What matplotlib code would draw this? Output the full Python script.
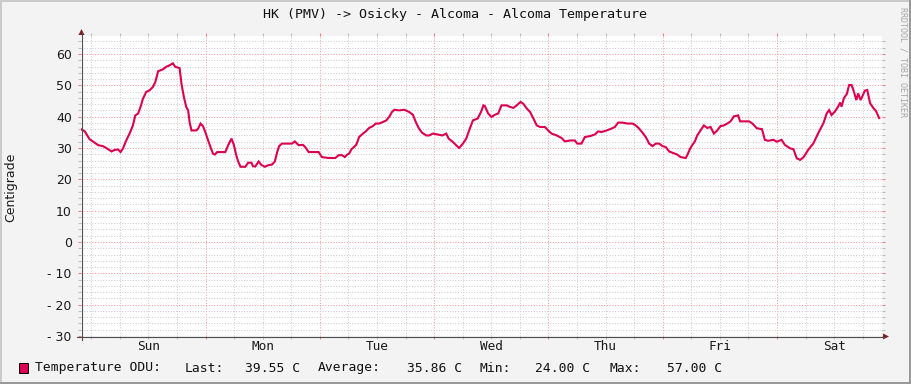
"""RRDtool-style weekly temperature graph."""

import matplotlib
matplotlib.use("Agg")
import matplotlib.pyplot as plt
import numpy as np
from matplotlib.lines import Line2D
from matplotlib.patches import Polygon, Rectangle

# hours since graph start (Sat ~21:50) and temperature in C
hours = [
    0.0, 0.8, 1.8, 2.5, 3.6, 4.6, 5.3, 6.4, 7.1, 7.8, 8.3, 8.8, 9.5, 10.2,
    10.9, 11.4, 12.0, 12.5, 13.0, 13.7, 14.4, 15.1, 15.6, 16.2, 17.2, 17.9,
    18.6, 19.3, 19.8, 20.7, 21.1, 21.6, 22.1, 22.5, 22.8, 23.2, 24.2, 24.6,
    25.1, 25.6, 26.1, 26.7, 27.2, 27.7, 28.1, 28.6, 29.3, 30.3, 30.9, 31.6,
    32.1, 32.6, 33.0, 33.5, 34.5, 35.1, 35.8, 36.1, 36.6, 37.3, 37.8, 38.6,
    39.3, 40.1, 40.7, 41.2, 41.6, 42.2, 43.3, 44.3, 44.9, 45.7, 46.6, 47.1,
    47.8, 49.2, 49.9, 50.6, 52.0, 53.4, 54.1, 54.8, 55.4, 55.9, 56.3, 56.8,
    57.1, 57.8, 58.4, 59.2, 59.8, 60.5, 61.3, 61.9, 62.6, 63.4, 64.1, 64.7,
    65.3, 65.8, 66.8, 67.9, 68.9, 69.7, 70.3, 70.9, 71.6, 72.5, 73.1, 73.9,
    74.9, 75.9, 76.7, 77.2, 78.1, 78.7, 79.4, 80.2, 80.9, 81.5, 82.3, 83.3,
    84.0, 84.5, 84.8, 85.5, 86.2, 86.9, 87.6, 88.3, 89.4, 90.1, 90.8, 91.5,
    92.3, 92.9, 93.6, 94.3, 95.0, 95.7, 96.4, 97.4, 98.1, 98.8, 99.9, 100.9,
    101.6, 102.7, 103.7, 104.2, 105.1, 105.8, 106.9, 107.9, 108.6, 109.3,
    110.4, 111.4, 112.1, 112.8, 113.7, 114.7, 115.8, 116.5, 117.2, 117.9,
    118.6, 119.3, 120.0, 120.7, 121.4, 122.1, 122.8, 123.5, 124.2, 125.2,
    125.9, 127.0, 127.3, 127.9, 128.4, 128.9, 129.4, 130.1, 130.8, 131.5,
    132.2, 132.9, 133.6, 134.3, 135.0, 135.7, 136.4, 137.1, 138.0, 138.4,
    139.2, 140.3, 141.0, 141.9, 143.0, 143.6, 144.3, 145.4, 146.1, 147.1,
    147.8, 148.9, 149.6, 150.3, 151.0, 151.7, 152.7, 153.8, 154.8, 155.9,
    156.6, 157.1, 157.6, 158.3, 159.0, 159.4, 159.7, 160.2, 160.8, 161.3,
    161.8, 162.2, 162.8, 163.2, 163.7, 164.2, 164.6, 165.1, 165.7, 166.4,
    166.9, 167.6,
]
temps = [
    36.0, 35.3, 32.8, 32.1, 30.9, 30.6, 30.0, 28.9, 29.4, 29.5, 28.7, 29.8,
    32.4, 34.6, 37.2, 40.4, 41.0, 43.1, 45.7, 47.9, 48.4, 49.5, 51.0, 54.5,
    55.1, 55.9, 56.4, 57.0, 55.9, 55.5, 50.5, 46.3, 43.1, 42.0, 38.3, 35.6,
    35.6, 36.2, 37.8, 37.0, 35.1, 32.4, 30.3, 28.2, 27.9, 28.7, 28.7, 28.7,
    30.9, 33.0, 31.0, 27.7, 25.7, 24.0, 24.0, 25.3, 25.3, 24.2, 24.1, 25.7,
    24.7, 24.0, 24.5, 24.7, 25.7, 28.7, 30.6, 31.4, 31.4, 31.4, 32.1, 30.9,
    31.0, 30.3, 28.7, 28.7, 28.7, 27.1, 26.8, 26.8, 27.7, 27.7, 27.1, 27.9,
    28.2, 29.6, 30.0, 31.0, 33.5, 34.6, 35.3, 36.4, 37.0, 37.8, 37.8, 38.3,
    38.8, 39.9, 41.5, 42.2, 42.0, 42.2, 41.5, 40.6, 38.3, 36.4, 34.9, 34.0,
    34.0, 34.6, 34.3, 34.0, 34.6, 33.0, 31.9, 31.0, 30.0, 31.4, 33.0, 35.6,
    38.8, 39.4, 41.5, 43.6, 43.4, 41.0, 39.9, 40.6, 41.0, 43.6, 43.6, 43.1,
    42.8, 43.6, 44.7, 44.1, 42.6, 41.5, 39.4, 37.2, 36.7, 36.7, 35.6, 34.6,
    34.0, 33.2, 32.1, 32.4, 32.4, 31.4, 31.4, 33.5, 33.8, 34.3, 35.3, 35.1,
    35.6, 36.2, 36.7, 38.1, 38.1, 37.8, 37.8, 37.2, 36.2, 34.9, 33.5, 31.4,
    30.6, 31.4, 31.4, 30.6, 30.3, 28.9, 28.5, 27.9, 27.1, 26.8, 27.7, 29.8,
    31.0, 32.1, 34.0, 35.6, 37.2, 36.4, 36.7, 34.6, 35.6, 37.0, 37.2, 37.8,
    38.5, 40.1, 40.4, 38.5, 38.5, 38.5, 37.8, 36.3, 36.0, 32.6, 32.3, 32.6,
    32.0, 32.6, 31.0, 29.9, 29.6, 26.7, 26.2, 27.0, 29.4, 31.5, 34.7, 37.9,
    41.1, 42.1, 40.5, 41.6, 43.2, 44.5, 43.2, 45.9, 47.2, 50.1, 50.1, 48.5,
    45.3, 47.4, 45.3, 46.9, 48.3, 48.5, 44.3, 42.7, 41.9, 39.55,
]
days = ["Sun", "Mon", "Tue", "Wed", "Thu", "Fri", "Sat"]
ytick_labels = ["- 30", "- 20", "- 10", "0", "10", "20", "30", "40", "50", "60"]
title = "HK (PMV) -> Osicky - Alcoma - Alcoma Temperature"
series_name = "Temperature ODU:"
stats = [("Last:", "39.55 C"), ("Average:", "35.86 C"),
         ("Min:", "24.00 C"), ("Max:", "57.00 C")]

W, H = 911, 384
LINE = "#dc0050"
MONO = "DejaVu Sans Mono"
first_midnight = 2.16  # hours after start


def fx(x):
    return x / W


def fy(y):
    return 1 - y / H


fig = plt.figure(figsize=(W / 100, H / 100), dpi=100)
fig.patch.set_facecolor("#f3f3f3")

ax = fig.add_axes([fx(81), fy(336), 801 / W, 300 / H])
ax.set_facecolor("white")
ax.set_xlim(0, 168.2)
ax.set_ylim(-30, 65.74)

# grid: day lines (major) at midnight, 6 h minor, 10 / 2 unit horizontals
six_hours = np.arange(first_midnight, 168, 6)
majors_x = six_hours[4::4]
minors_x = [h for h in six_hours if h not in majors_x]
ax.set_xticks(majors_x)
ax.set_xticks(minors_x, minor=True)
ax.set_yticks(np.arange(-30, 61, 10))
ax.set_yticks([v for v in range(-30, 66, 2) if v % 10], minor=True)
ax.set_yticklabels(ytick_labels)
ax.grid(which="minor", color="#cfcfcf", lw=0.75, linestyle=(0, (1, 1.6)))
ax.grid(which="major", color="#f2a0a0", lw=0.75, linestyle=(0, (1, 1.6)))
ax.set_axisbelow(True)
ax.tick_params(which="both", direction="out", length=2.4, width=0.75,
               top=True, right=True, labelbottom=False)
ax.tick_params(which="major", color="#ec8080")
ax.tick_params(which="minor", color="#bdbdbd")
ax.tick_params(axis="y", which="major", pad=4.2, labelsize=9,
               labelcolor="#1a1a1a")
for s in ax.spines.values():
    s.set_visible(False)

ax.plot(hours, temps, color=LINE, lw=1.5, solid_joinstyle="miter", zorder=3)

for i, d in enumerate(days):
    ax.text(first_midnight + 12 + 24 * i, -11 / 300, d,
            transform=ax.get_xaxis_transform(), ha="center", va="center",
            family=MONO, fontsize=9.2, color="#1a1a1a")

# axis lines with arrows
fig.add_artist(Line2D([fx(81.5), fx(81.5)], [fy(340), fy(32)],
                      color="#4d4d4d", lw=0.8))
fig.add_artist(Line2D([fx(77), fx(884)], [fy(336.5), fy(336.5)],
                      color="#4d4d4d", lw=0.8))
fig.add_artist(Polygon([(fx(78.5), fy(35)), (fx(84.5), fy(35)),
                        (fx(81.5), fy(29))], closed=True,
                       color="#7f1f1f", lw=0))
fig.add_artist(Polygon([(fx(883), fy(333.5)), (fx(883), fy(339.5)),
                        (fx(889), fy(336.5))], closed=True,
                       color="#7f1f1f", lw=0))

fig.text(fx(455), fy(14.5), title, ha="center", va="center", family=MONO,
         fontsize=9.6, color="#111111")
fig.text(fx(11), fy(187), "Centigrade", rotation=90, ha="center",
         va="center", fontsize=9, color="#1a1a1a")
fig.text(fx(903), fy(62), "RRDTOOL / TOBI OETIKER", rotation=-90,
         ha="center", va="center", family=MONO, fontsize=6, color="#a6a6a6")

# legend row
fig.add_artist(Rectangle((fx(19), fy(372.5)), 9 / W, 10 / H,
                         facecolor=LINE, edgecolor="black", lw=0.7))
legend_y = fy(368)
fig.text(fx(35), legend_y, series_name, va="center", family=MONO,
         fontsize=9.4, color="#111111")
label_x = [185, 318, 480, 610]
value_x = [245, 407, 535, 667]
for (lab, val), lx, vx in zip(stats, label_x, value_x):
    fig.text(fx(lx), legend_y, lab, va="center", family=MONO, fontsize=9.4,
             color="#111111")
    fig.text(fx(vx), legend_y, val, va="center", family=MONO, fontsize=9.4,
             color="#111111")

# image frame shading
fig.add_artist(Rectangle((0, fy(2)), 1, 2 / H, color="#cbcbcb", lw=0))
fig.add_artist(Rectangle((0, 0), 2 / W, 1, color="#cbcbcb", lw=0))
fig.add_artist(Rectangle((fx(909), 0), 2 / W, 1, color="#999999", lw=0))
fig.add_artist(Rectangle((0, 0), 1, 2 / H, color="#999999", lw=0))

fig.savefig("out.png", dpi=100, facecolor=fig.get_facecolor())
